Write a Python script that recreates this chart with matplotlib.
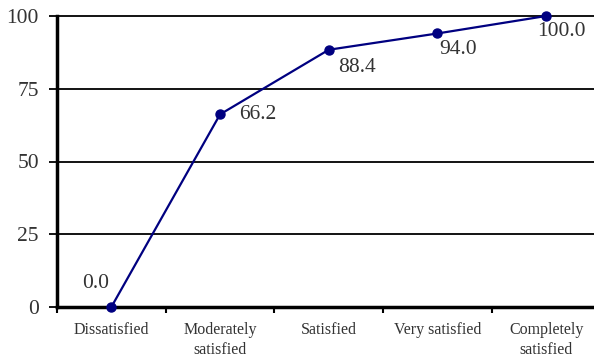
import matplotlib
matplotlib.use("Agg")
import matplotlib.pyplot as plt
from matplotlib.ticker import FixedLocator

categories = ["Dissatisfied", "Moderately\nsatisfied", "Satisfied", "Very satisfied", "Completely\nsatisfied"]
values = [0.0, 66.2, 88.4, 94.0, 100.0]
y_ticks = [0, 25, 50, 75, 100]

# label offsets in pixels (dx, dy) and alignment
label_offsets = [(-16, 24, "center"), (19, 0, "left"), (9, -18, "left"), (2, -16, "left"), (15, -16, "center")]

plt.rcParams['font.family'] = ['Liberation Serif', 'DejaVu Serif']

fig = plt.figure(figsize=(5.94, 3.59), dpi=100)
ax = fig.add_axes([57/594, 52/359, 1 - 57/594, (307-16)/359])

x = list(range(len(categories)))
ax.plot(x, values, color="#000080", lw=1.6, marker="o", ms=6.5, clip_on=False, zorder=5)

for xi, v, (dx, dy, ha) in zip(x, values, label_offsets):
    ax.annotate(f"{v:.1f}", (xi, v), xytext=(dx, dy), textcoords="offset pixels",
                ha=ha, va="center", fontsize=15.5, color="#333333", zorder=6)

ax.set_ylim(0, 100)
ax.set_xlim(-0.5, 4.44)
ax.set_yticks(y_ticks)
ax.set_yticklabels([str(t) for t in y_ticks], fontsize=15.5, color="#333333")
ax.set_xticks(x)
ax.set_xticklabels(categories, fontsize=11.5, color="#333333", linespacing=1.3)
ax.tick_params(axis="x", which="major", length=0, pad=11)
ax.xaxis.set_minor_locator(FixedLocator([i + 0.5 for i in range(-1, 5)]))
ax.tick_params(axis="x", which="minor", length=4, width=1.5, direction="out", color="black")
ax.tick_params(axis="y", length=6, width=1.3, pad=7, color="black")

for t in y_ticks[1:]:
    ax.axhline(t, color="black", lw=1.3, zorder=1, clip_on=False)

ax.spines["top"].set_visible(False)
ax.spines["right"].set_visible(False)
ax.spines["left"].set_linewidth(2.5)
ax.spines["bottom"].set_linewidth(2.5)
ax.spines["left"].set_zorder(3)
ax.spines["bottom"].set_zorder(3)

fig.savefig("out.png", dpi=100)
